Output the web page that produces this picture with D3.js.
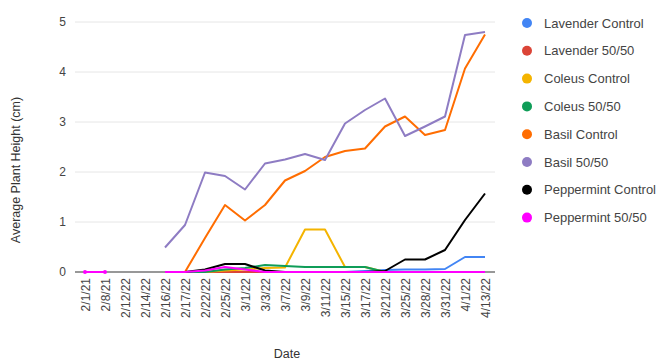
<!DOCTYPE html>
<html><head><meta charset="utf-8">
<script src="https://cdn.jsdelivr.net/npm/d3@7/dist/d3.min.js"></script>
<style>body{margin:0;background:#fff}svg{display:block}</style>
</head><body><svg id="c" width="665" height="362"></svg>
<script>
const dates = ["2/1/21","2/8/21","2/12/22","2/14/22","2/16/22","2/17/22","2/22/22","2/25/22","3/1/22","3/3/22","3/7/22","3/9/22","3/11/22","3/15/22","3/17/22","3/21/22","3/25/22","3/28/22","3/31/22","4/1/22","4/13/22"];
const seriesNames = ["Lavender Control","Lavender 50/50","Coleus Control","Coleus 50/50","Basil Control","Basil 50/50","Peppermint Control","Peppermint 50/50"];
const colors = ["#4285f4","#db4437","#f4b400","#0f9d58","#ff6d01","#8e7cc3","#000000","#ff00ff"];
const lavenderControl = [null,null,null,null,0,0,0,0,0,0,0,0,0,0,0.02,0.04,0.05,0.05,0.06,0.3,0.3];
const lavender5050   = [null,null,null,null,0,0,0,0,0,0,0,0,0,0,0,0,0,0,0,0,0];
const coleusControl  = [null,null,null,null,0,0,0,0.03,0.05,0.08,0.09,0.85,0.85,0.1,0.1,0,0,0,0,0,0];
const coleus5050     = [null,null,null,null,0,0,0,0.05,0.08,0.14,0.12,0.1,0.1,0.1,0.1,0,0,0,0,0,0];
const basilControl   = [null,null,null,null,0,0,0.68,1.34,1.03,1.34,1.83,2.02,2.3,2.42,2.47,2.91,3.11,2.74,2.84,4.07,4.75];
const basil5050      = [null,null,null,null,0.49,0.94,1.99,1.92,1.65,2.17,2.25,2.36,2.24,2.97,3.24,3.47,2.72,2.91,3.11,4.74,4.8];
const pepControl     = [null,null,null,null,0,0,0.05,0.16,0.16,0.03,0,0,0,0,0,0.02,0.25,0.25,0.44,1.04,1.57];
const pep5050        = [0,0,null,null,0,0,0.03,0.1,0.05,0,0,0,0,0,0,0,0,0,0,0,0];
const allValues = [lavenderControl,lavender5050,coleusControl,coleus5050,basilControl,basil5050,pepControl,pep5050];
const yTicks = [0,1,2,3,4,5];

const svg = d3.select("#c");
const font = "Liberation Sans, Arial, sans-serif";
const x = d3.scalePoint().domain(dates).range([85,485]);
const y = d3.scaleLinear().domain([0,5]).range([272,22]);

// gridlines
svg.append("g").selectAll("line").data(yTicks.filter(d=>d>0)).join("line")
  .attr("x1",75).attr("x2",495).attr("y1",d=>y(d)).attr("y2",d=>y(d))
  .attr("stroke","#e6e6e6").attr("stroke-width",1);

// y axis labels
const ya = svg.append("g").attr("transform","translate(75,0)")
  .call(d3.axisLeft(y).tickValues(yTicks).tickSize(0).tickPadding(9).tickFormat(d3.format("d")));
ya.select(".domain").remove();
ya.selectAll("text").attr("font-family",font).attr("font-size",12).attr("fill","#444");

// x axis
const xa = svg.append("g").attr("transform","translate(0,272)")
  .call(d3.axisBottom(x).tickSize(0).tickPadding(5));
xa.select(".domain").attr("d","M75,0H495").attr("stroke","#333").attr("stroke-width",1.2);
xa.selectAll("text").attr("font-family",font).attr("font-size",12).attr("fill","#444")
  .attr("transform","rotate(-90)").attr("text-anchor","end").attr("dy","0.35em").attr("x",-6).attr("y",0);

// lines
const line = d3.line().defined(d=>d.v!==null).x(d=>x(d.d)).y(d=>y(d.v));
allValues.forEach((vals,i)=>{
  const pts = vals.map((v,j)=>({d:dates[j],v}));
  svg.append("path").datum(pts).attr("d",line).attr("fill","none")
    .attr("stroke",colors[i]).attr("stroke-width",2).attr("stroke-linejoin","round");
});
// small markers on the isolated early points
svg.append("g").selectAll("circle").data(pep5050.map((v,j)=>({d:dates[j],v})).slice(0,2)).join("circle")
  .attr("cx",d=>x(d.d)).attr("cy",d=>y(d.v)).attr("r",2).attr("fill",colors[7]);

// axis titles
svg.append("text").attr("transform","translate(20,170) rotate(-90)").attr("text-anchor","middle")
  .attr("font-family",font).attr("font-size",12.5).attr("fill","#333").text("Average Plant Height (cm)");
svg.append("text").attr("x",287).attr("y",358).attr("text-anchor","middle")
  .attr("font-family",font).attr("font-size",12.5).attr("fill","#333").text("Date");

// legend
const lg = svg.append("g").selectAll("g").data(seriesNames).join("g")
  .attr("transform",(d,i)=>`translate(527,${23+i*27.8})`);
lg.append("circle").attr("r",5).attr("fill",(d,i)=>colors[i]);
lg.append("text").attr("x",17).attr("dy","0.35em").attr("font-family",font).attr("font-size",13)
  .attr("fill","#444").text(d=>d);
</script></body></html>
